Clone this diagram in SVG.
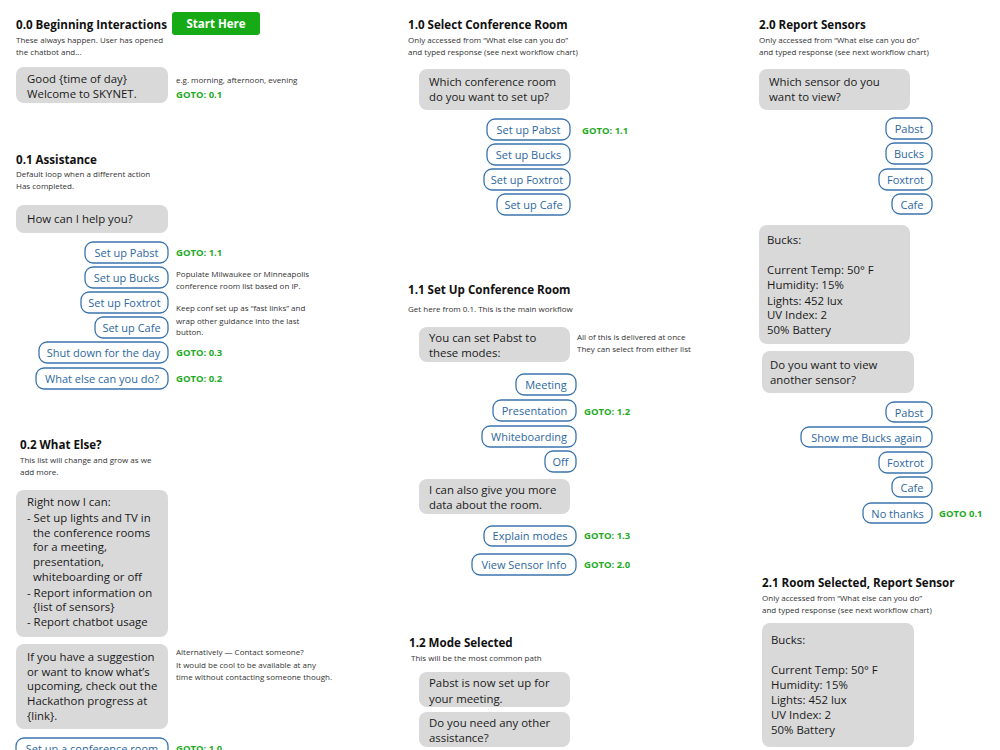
<svg xmlns="http://www.w3.org/2000/svg" width="1000" height="750" viewBox="0 0 1000 750">
<style>
text{font-family:"Open Sans","Noto Sans","Liberation Sans",sans-serif;}
.t{font-size:11.6px;font-weight:700;fill:#111;}
.s{font-size:8px;fill:#333;}
.n{font-size:8px;fill:#333;}
.b{fill:#d9d9d9;}
.bt{font-size:11.4px;fill:#1a1a1a;}
.btn rect{fill:#fff;stroke:#3a74ad;stroke-width:1.3;}
.btn text{font-size:11px;fill:#2d68a0;text-anchor:middle;}
.g{font-size:9.5px;font-weight:700;fill:#1faa1f;}
</style>
<rect width="1000" height="750" fill="#fff"/>
<g id="connectors"/>

<!-- 0.0 -->
<g id="sec-0-0">
<text class="t" x="16" y="29">0.0 Beginning Interactions</text>
<text class="s" x="16" y="43">These always happen. User has opened</text>
<text class="s" x="16" y="55">the chatbot and...</text>
</g>
<g id="start-here">
<rect x="172" y="12" width="88" height="23" rx="3" fill="#16ab16"/>
<text x="216" y="28" font-size="11.5" font-weight="700" fill="#fff" text-anchor="middle">Start Here</text>
</g>
<g id="bubble-greeting">
<rect class="b" x="16" y="67" width="152" height="36" rx="8"/>
<text class="bt" x="27" y="83">Good {time of day}</text>
<text class="bt" x="27" y="98">Welcome to SKYNET.</text>
</g>
<g id="note-greeting">
<text class="n" x="176" y="83">e.g. morning, afternoon, evening</text>
<text class="g" x="176" y="98">GOTO: 0.1</text>
</g>

<!-- 0.1 -->
<g id="sec-0-1">
<text class="t" x="16" y="164">0.1 Assistance</text>
<text class="s" x="16" y="177">Default loop when a different action</text>
<text class="s" x="16" y="189">Has completed.</text>
</g>
<g id="bubble-help">
<rect class="b" x="16" y="205" width="152" height="28" rx="8"/>
<text class="bt" x="27" y="223">How can I help you?</text>
</g>
<g id="btn-0-1-pabst" class="btn"><rect x="85" y="242" width="83" height="21" rx="8"/><text x="126.5" y="256.5">Set up Pabst</text></g>
<g id="btn-0-1-bucks" class="btn"><rect x="85" y="267" width="83" height="21" rx="8"/><text x="126.5" y="281.5">Set up Bucks</text></g>
<g id="btn-0-1-foxtrot" class="btn"><rect x="81" y="292" width="87" height="21" rx="8"/><text x="124.5" y="306.5">Set up Foxtrot</text></g>
<g id="btn-0-1-cafe" class="btn"><rect x="95" y="317" width="73" height="21" rx="8"/><text x="131.5" y="331.5">Set up Cafe</text></g>
<g id="btn-0-1-shutdown" class="btn"><rect x="39" y="342" width="129" height="21" rx="8"/><text x="103.5" y="356.5">Shut down for the day</text></g>
<g id="btn-0-1-whatelse" class="btn"><rect x="36" y="368" width="132" height="21" rx="8"/><text x="102" y="382.5">What else can you do?</text></g>
<g id="notes-0-1">
<text class="g" x="176" y="256">GOTO: 1.1</text>
<text class="n" x="176" y="277">Populate Milwaukee or Minneapolis</text>
<text class="n" x="176" y="289">conference room list based on IP.</text>
<text class="n" x="176" y="311">Keep conf set up as “fast links” and</text>
<text class="n" x="176" y="324">wrap other guidance into the last</text>
<text class="n" x="176" y="335">button.</text>
<text class="g" x="176" y="356">GOTO: 0.3</text>
<text class="g" x="176" y="382">GOTO: 0.2</text>
</g>

<!-- 0.2 -->
<g id="sec-0-2">
<text class="t" x="20" y="449">0.2 What Else?</text>
<text class="s" x="20" y="463">This list will change and grow as we</text>
<text class="s" x="20" y="475">add more.</text>
</g>
<g id="bubble-rightnow">
<rect class="b" x="16" y="490" width="152" height="147" rx="8"/>
<text class="bt" x="27" y="506">Right now I can:</text>
<text class="bt" x="27" y="522">- Set up lights and TV in</text>
<text class="bt" x="33" y="537">the conference rooms</text>
<text class="bt" x="33" y="551">for a meeting,</text>
<text class="bt" x="33" y="566">presentation,</text>
<text class="bt" x="33" y="581">whiteboarding or off</text>
<text class="bt" x="27" y="597">- Report information on</text>
<text class="bt" x="33" y="611">{list of sensors}</text>
<text class="bt" x="27" y="626">- Report chatbot usage</text>
</g>
<g id="bubble-suggestion">
<rect class="b" x="16" y="644" width="152" height="85" rx="8"/>
<text class="bt" x="27" y="661">If you have a suggestion</text>
<text class="bt" x="27" y="676">or want to know what’s</text>
<text class="bt" x="27" y="690">upcoming, check out the</text>
<text class="bt" x="27" y="705">Hackathon progress at</text>
<text class="bt" x="27" y="720">{link}.</text>
</g>
<g id="note-alt">
<text class="n" x="176" y="655">Alternatively — Contact someone?</text>
<text class="n" x="176" y="668">It would be cool to be available at any</text>
<text class="n" x="176" y="680">time without contacting someone though.</text>
</g>
<g id="btn-0-2-conf" class="btn"><rect x="16" y="738" width="152" height="21" rx="8"/><text x="92" y="752.5">Set up a conference room</text></g>
<g id="goto-0-2"><text class="g" x="176" y="752">GOTO: 1.0</text></g>

<!-- 1.0 -->
<g id="sec-1-0">
<text class="t" x="408" y="29">1.0 Select Conference Room</text>
<text class="s" x="408" y="43">Only accessed from “What else can you do”</text>
<text class="s" x="408" y="55">and typed response (see next workflow chart)</text>
</g>
<g id="bubble-whichroom">
<rect class="b" x="419" y="69" width="151" height="41" rx="8"/>
<text class="bt" x="429" y="86">Which conference room</text>
<text class="bt" x="429" y="101">do you want to set up?</text>
</g>
<g id="btn-1-0-pabst" class="btn"><rect x="487" y="119" width="83" height="21" rx="8"/><text x="528.5" y="134">Set up Pabst</text></g>
<g id="btn-1-0-bucks" class="btn"><rect x="487" y="144" width="83" height="21" rx="8"/><text x="528.5" y="159">Set up Bucks</text></g>
<g id="btn-1-0-foxtrot" class="btn"><rect x="484" y="169" width="86" height="21" rx="8"/><text x="527" y="184">Set up Foxtrot</text></g>
<g id="btn-1-0-cafe" class="btn"><rect x="497" y="194" width="73" height="21" rx="8"/><text x="533.5" y="209">Set up Cafe</text></g>
<g id="goto-1-0"><text class="g" x="582" y="134">GOTO: 1.1</text></g>

<!-- 1.1 -->
<g id="sec-1-1">
<text class="t" x="408" y="294">1.1 Set Up Conference Room</text>
<text class="s" x="408" y="312">Get here from 0.1. This is the main workflow</text>
</g>
<g id="bubble-modes">
<rect class="b" x="419" y="327" width="151" height="35" rx="8"/>
<text class="bt" x="429" y="342">You can set Pabst to</text>
<text class="bt" x="429" y="357">these modes:</text>
</g>
<g id="note-modes">
<text class="n" x="577" y="340">All of this is delivered at once</text>
<text class="n" x="577" y="352">They can select from either list</text>
</g>
<g id="btn-meeting" class="btn"><rect x="516" y="374" width="60" height="21" rx="8"/><text x="546" y="388.5">Meeting</text></g>
<g id="btn-presentation" class="btn"><rect x="493" y="400" width="83" height="21" rx="8"/><text x="534.5" y="414.5">Presentation</text></g>
<g id="btn-whiteboarding" class="btn"><rect x="482" y="426" width="94" height="21" rx="8"/><text x="529" y="440.5">Whiteboarding</text></g>
<g id="btn-off" class="btn"><rect x="545" y="451" width="31" height="21" rx="8"/><text x="560.5" y="465.5">Off</text></g>
<g id="goto-1-2"><text class="g" x="584" y="415">GOTO: 1.2</text></g>
<g id="bubble-moredata">
<rect class="b" x="419" y="479" width="151" height="35" rx="8"/>
<text class="bt" x="429" y="494">I can also give you more</text>
<text class="bt" x="429" y="509">data about the room.</text>
</g>
<g id="btn-explain" class="btn"><rect x="484" y="526" width="92" height="20" rx="8"/><text x="530" y="540">Explain modes</text></g>
<g id="btn-sensorinfo" class="btn"><rect x="472" y="554" width="104" height="21" rx="8"/><text x="524" y="568.5">View Sensor Info</text></g>
<g id="goto-1-1">
<text class="g" x="584" y="539">GOTO: 1.3</text>
<text class="g" x="584" y="568">GOTO: 2.0</text>
</g>

<!-- 1.2 -->
<g id="sec-1-2">
<text class="t" x="409" y="647">1.2 Mode Selected</text>
<text class="s" x="411" y="661">This will be the most common path</text>
</g>
<g id="bubble-setup">
<rect class="b" x="419" y="672" width="151" height="35" rx="8"/>
<text class="bt" x="429" y="687">Pabst is now set up for</text>
<text class="bt" x="429" y="703">your meeting.</text>
</g>
<g id="bubble-other">
<rect class="b" x="419" y="712" width="151" height="35" rx="8"/>
<text class="bt" x="429" y="727">Do you need any other</text>
<text class="bt" x="429" y="742">assistance?</text>
</g>

<!-- 2.0 -->
<g id="sec-2-0">
<text class="t" x="759" y="29">2.0 Report Sensors</text>
<text class="s" x="759" y="43">Only accessed from “What else can you do”</text>
<text class="s" x="759" y="55">and typed response (see next workflow chart)</text>
</g>
<g id="bubble-whichsensor">
<rect class="b" x="759" y="69" width="151" height="41" rx="8"/>
<text class="bt" x="769" y="86">Which sensor do you</text>
<text class="bt" x="769" y="101">want to view?</text>
</g>
<g id="btn-2-0-pabst" class="btn"><rect x="886" y="118" width="46" height="21" rx="8"/><text x="909" y="133">Pabst</text></g>
<g id="btn-2-0-bucks" class="btn"><rect x="886" y="143" width="46" height="21" rx="8"/><text x="909" y="158">Bucks</text></g>
<g id="btn-2-0-foxtrot" class="btn"><rect x="879" y="169" width="53" height="21" rx="8"/><text x="905.5" y="183.5">Foxtrot</text></g>
<g id="btn-2-0-cafe" class="btn"><rect x="892" y="194" width="40" height="20" rx="8"/><text x="912" y="208.5">Cafe</text></g>
<g id="bubble-bucks">
<rect class="b" x="759" y="225" width="151" height="119" rx="8"/>
<text class="bt" x="767" y="244">Bucks:</text>
<text class="bt" x="767" y="274">Current Temp: 50° F</text>
<text class="bt" x="767" y="289">Humidity: 15%</text>
<text class="bt" x="767" y="305">Lights: 452 lux</text>
<text class="bt" x="767" y="319">UV Index: 2</text>
<text class="bt" x="767" y="334">50% Battery</text>
</g>
<g id="bubble-another">
<rect class="b" x="762" y="351" width="152" height="42" rx="8"/>
<text class="bt" x="770" y="369">Do you want to view</text>
<text class="bt" x="770" y="384">another sensor?</text>
</g>
<g id="btn-2-0b-pabst" class="btn"><rect x="886" y="402" width="46" height="20" rx="8"/><text x="909" y="416.5">Pabst</text></g>
<g id="btn-2-0b-bucks" class="btn"><rect x="801" y="427" width="131" height="20" rx="8"/><text x="866.5" y="441.5">Show me Bucks again</text></g>
<g id="btn-2-0b-foxtrot" class="btn"><rect x="879" y="452" width="53" height="21" rx="8"/><text x="905.5" y="466.5">Foxtrot</text></g>
<g id="btn-2-0b-cafe" class="btn"><rect x="892" y="477" width="40" height="20" rx="8"/><text x="912" y="491.5">Cafe</text></g>
<g id="btn-nothanks" class="btn"><rect x="863" y="503" width="69" height="20" rx="8"/><text x="897.5" y="517.5">No thanks</text></g>
<g id="goto-2-0"><text class="g" x="939" y="517">GOTO 0.1</text></g>

<!-- 2.1 -->
<g id="sec-2-1">
<text class="t" x="762" y="587">2.1 Room Selected, Report Sensor</text>
<text class="s" x="762" y="601">Only accessed from “What else can you do”</text>
<text class="s" x="762" y="613">and typed response (see next workflow chart)</text>
</g>
<g id="bubble-bucks-2">
<rect class="b" x="762" y="623" width="152" height="124" rx="8"/>
<text class="bt" x="771" y="644">Bucks:</text>
<text class="bt" x="771" y="674">Current Temp: 50° F</text>
<text class="bt" x="771" y="689">Humidity: 15%</text>
<text class="bt" x="771" y="704">Lights: 452 lux</text>
<text class="bt" x="771" y="719">UV Index: 2</text>
<text class="bt" x="771" y="734">50% Battery</text>
</g>
</svg>
